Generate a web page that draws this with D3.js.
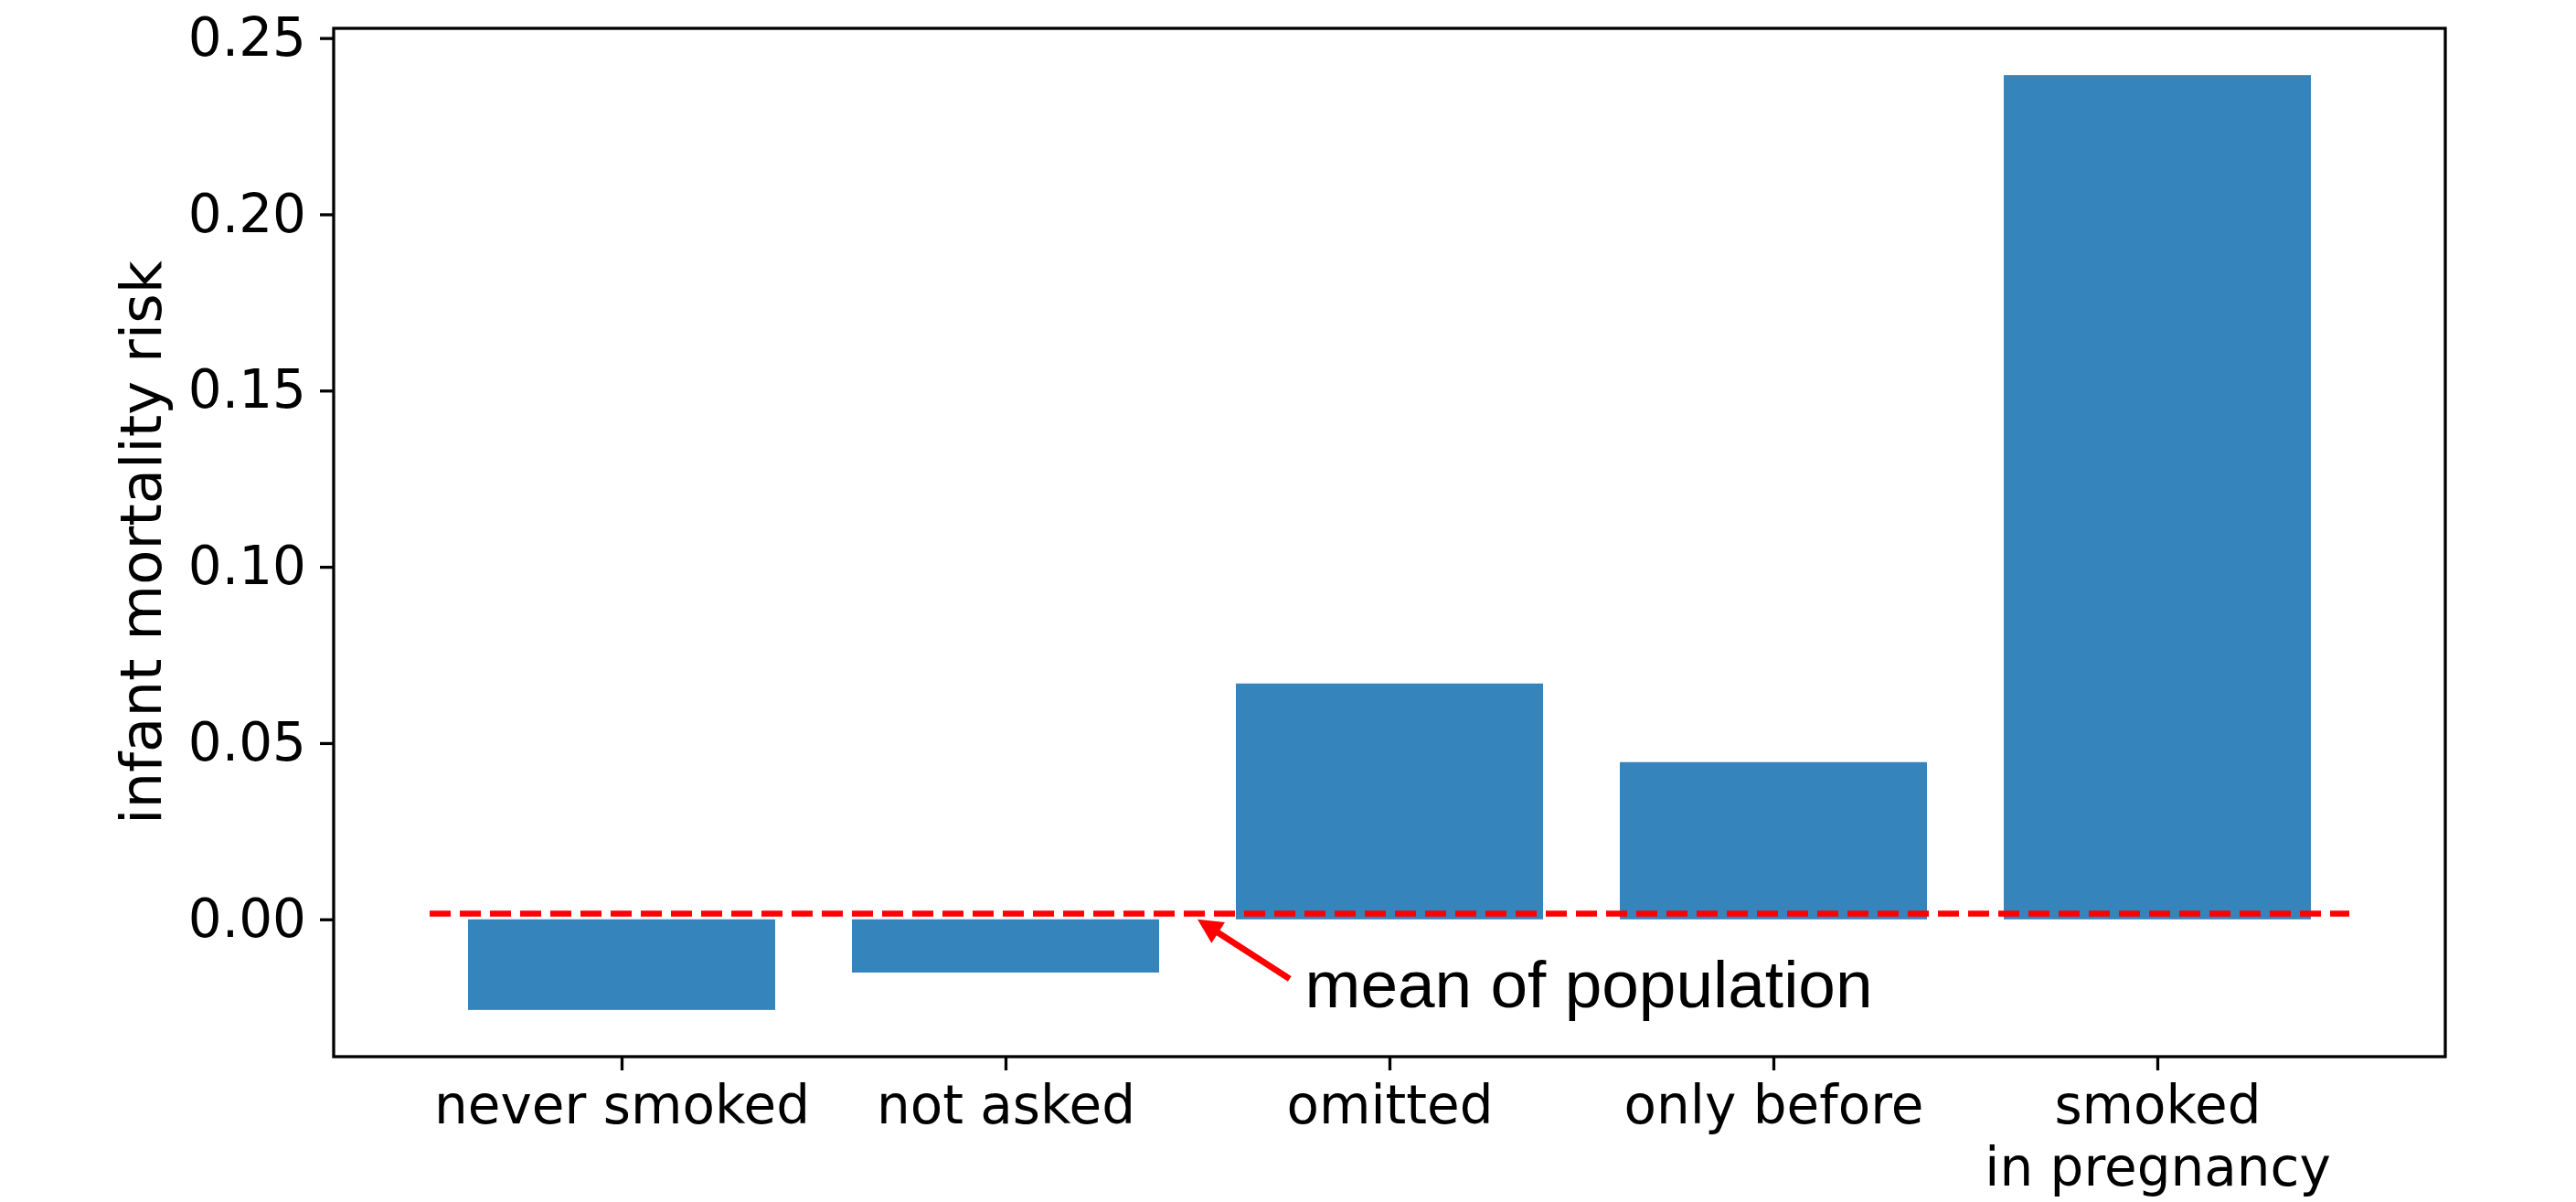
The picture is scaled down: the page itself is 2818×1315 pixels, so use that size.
<!DOCTYPE html>
<html>
<head>
<meta charset="utf-8">
<script src="https://cdn.jsdelivr.net/npm/d3@7"></script>
<style>
  body { margin: 0; background: #fff; }
  .axis text { font-family: "DejaVu Sans", sans-serif; font-size: 58px; fill: #000; }
  .axis line, .axis path { stroke: #000; stroke-width: 3.3px; }
</style>
</head>
<body>
<div id="chart"></div>
<script>
// chart values
var categories = ["never smoked", "not asked", "omitted", "only before", "smoked\nin pregnancy"];
var riskValues = [-0.0257, -0.0151, 0.0669, 0.0446, 0.2395];
var yTicks = [0.00, 0.05, 0.10, 0.15, 0.20, 0.25];
var populationMean = 0.0016;
var meanLineExtent = [-0.5, 4.5];
var annotationText = "mean of population";
var annotationPoint = [1.5, 0.0];      // where the arrow points
var annotationTextPos = [1.78, -0.025]; // text baseline position
var arrowTail = [1.74, -0.0169];

var W = 2818, H = 1315;
var margin = { left: 365, right: W - 2675, top: 31, bottom: H - 1156 };
var innerW = W - margin.left - margin.right;
var innerH = H - margin.top - margin.bottom;

var svg = d3.select("#chart").append("svg")
    .attr("width", W)
    .attr("height", H);

var g = svg.append("g")
    .attr("transform", "translate(" + margin.left + "," + margin.top + ")");

// matplotlib-style 5% margins on the data limits
var xMin = meanLineExtent[0], xMax = meanLineExtent[1];
var xPad = (xMax - xMin) * 0.05;
var x = d3.scaleLinear()
    .domain([xMin - xPad, xMax + xPad])
    .range([0, innerW]);

var yMin = d3.min(riskValues), yMax = d3.max(riskValues);
var yPad = (yMax - yMin) * 0.05;
var y = d3.scaleLinear()
    .domain([yMin - yPad, yMax + yPad])
    .range([innerH, 0]);

var barWidth = 0.8;

// bars
g.selectAll("rect.bar")
    .data(riskValues)
    .enter()
    .append("rect")
    .attr("class", "bar")
    .attr("x", (d, i) => x(i - barWidth / 2))
    .attr("width", x(barWidth) - x(0))
    .attr("y", d => y(Math.max(0, d)))
    .attr("height", d => Math.abs(y(d) - y(0)))
    .attr("fill", "#3584bb");

// mean line
g.append("line")
    .attr("x1", x(meanLineExtent[0]))
    .attr("x2", x(meanLineExtent[1]))
    .attr("y1", y(populationMean))
    .attr("y2", y(populationMean))
    .attr("stroke", "#ff0000")
    .attr("stroke-width", 6.5)
    .attr("stroke-dasharray", "23,10");

// annotation arrow
var tip = [x(annotationPoint[0]), y(annotationPoint[1])];
var tail = [x(arrowTail[0]), y(arrowTail[1])];
var dx = tail[0] - tip[0], dy = tail[1] - tip[1];
var len = Math.sqrt(dx * dx + dy * dy);
var ux = dx / len, uy = dy / len;
var headLen = 27, headHalf = 13.5;
var base = [tip[0] + ux * headLen, tip[1] + uy * headLen];

g.append("line")
    .attr("x1", base[0] - ux * 2)
    .attr("y1", base[1] - uy * 2)
    .attr("x2", tail[0])
    .attr("y2", tail[1])
    .attr("stroke", "#ff0000")
    .attr("stroke-width", 7);

g.append("path")
    .attr("d", "M" + tip[0] + "," + tip[1] +
        "L" + (base[0] - uy * headHalf) + "," + (base[1] + ux * headHalf) +
        "L" + (base[0] + uy * headHalf) + "," + (base[1] - ux * headHalf) + "Z")
    .attr("fill", "#ff0000");

g.append("text")
    .attr("x", x(annotationTextPos[0]))
    .attr("y", y(annotationTextPos[1]))
    .attr("font-family", "'Liberation Sans', Arial, sans-serif")
    .attr("font-size", "73px")
    .attr("fill", "#000")
    .text(annotationText);

// axes
var yAxis = d3.axisLeft(y)
    .tickValues(yTicks)
    .tickFormat(d3.format(".2f"))
    .tickSize(15)
    .tickSizeOuter(0)
    .tickPadding(15);

g.append("g")
    .attr("class", "axis")
    .call(yAxis)
    .select(".domain").remove();

var xAxis = d3.axisBottom(x)
    .tickValues(d3.range(categories.length))
    .tickFormat(i => categories[i])
    .tickSize(15)
    .tickSizeOuter(0)
    .tickPadding(17);

var xg = g.append("g")
    .attr("class", "axis")
    .attr("transform", "translate(0," + innerH + ")")
    .call(xAxis);
xg.select(".domain").remove();

// split multi-line tick labels
xg.selectAll(".tick text").each(function(i) {
    var lines = categories[i].split("\n");
    var t = d3.select(this);
    t.text(null);
    lines.forEach(function(line, k) {
        t.append("tspan")
            .attr("x", 0)
            .attr("dy", k === 0 ? "0.71em" : "1.17em")
            .text(line);
    });
    t.attr("dy", null);
});

// frame
g.append("rect")
    .attr("x", 0)
    .attr("y", 0)
    .attr("width", innerW)
    .attr("height", innerH)
    .attr("fill", "none")
    .attr("stroke", "#000")
    .attr("stroke-width", 3.3);

// y label
svg.append("text")
    .attr("transform", "translate(176," + (margin.top + innerH / 2) + ") rotate(-90)")
    .attr("text-anchor", "middle")
    .attr("font-family", "'DejaVu Sans', sans-serif")
    .attr("font-size", "62.5px")
    .attr("fill", "#000")
    .text("infant mortality risk");
</script>
</body>
</html>
